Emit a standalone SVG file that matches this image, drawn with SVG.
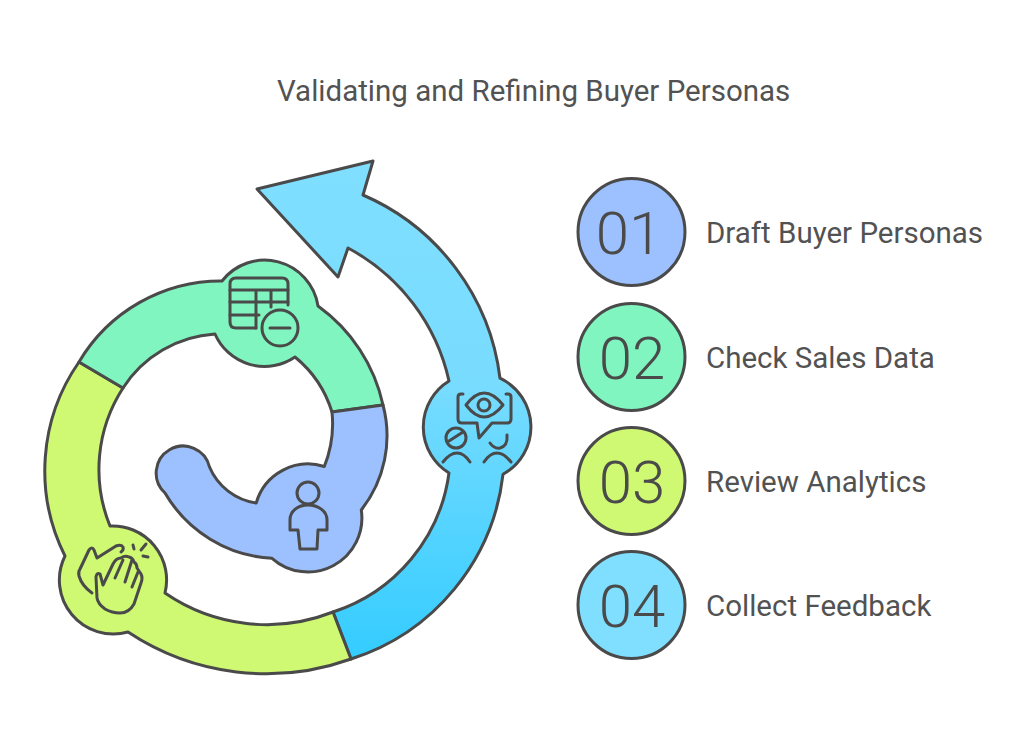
<svg xmlns="http://www.w3.org/2000/svg" width="1024" height="750" viewBox="0 0 1024 750">
<style>
.s{stroke:#4a4a4a;stroke-width:3;stroke-linejoin:round}
.i{fill:none;stroke:#4a4a4a;stroke-width:3;stroke-linecap:round;stroke-linejoin:round}
.t{font-family:Roboto,"Liberation Sans",sans-serif;fill:#525252;font-size:29.500px}
.n{font-family:Roboto,"Liberation Sans",sans-serif;fill:#4a4a4a;font-size:60px;font-weight:300;text-anchor:middle}
</style>
<defs>
<linearGradient id="b" gradientUnits="userSpaceOnUse" x1="0" y1="160" x2="0" y2="660">
<stop offset="0" stop-color="#80dfff"/><stop offset=".45" stop-color="#78dcff"/><stop offset="1" stop-color="#33ccff"/>
</linearGradient>
</defs>
<rect width="1024" height="750" fill="#fff"/>
<text id="title" class="t" x="277" y="100.500">Validating and Refining Buyer Personas</text>
<g id="spiral">
<g id="segment-04">
<path class="s" fill="url(#b)" d="M351,659 A220,220 0 0 0 503,474.300 A54,54 0 0 0 500,378.200 A230,230 0 0 0 363,195 L373,161 L257,189 L338,277 L348,248 A200,200 0 0 1 449,381 A54,54 0 0 0 449,473 A170,170 0 0 1 333,612 Z"/>
<g class="i">
<path d="M466,405 Q484,381 503,405 Q484,429 466,405 Z"/>
<circle cx="484" cy="405" r="6"/>
<path d="M463,394 H461 Q458,394 458,397 V419 Q458,423 462,423 H477 L479,438 L492,423 H507 Q511,423 511,419 V397 Q511,394 508,394 H506"/>
<circle cx="456" cy="438" r="10"/>
<path d="M449,441 L463,432"/>
<path d="M443,462 Q450,453 457,453 Q464,453 470,462"/>
<path d="M490,443 Q494,449 500,448 Q508,446 507,435"/>
<path d="M484,462 Q490,453 497,453 Q504,453 511,462"/>
</g>
</g>
<g id="segment-03">
<path class="s" fill="#cff873" d="M79,362 A190,190 0 0 0 65,556 A54,54 0 0 0 128,632 A250,250 0 0 0 351,659 L333,612 A180,180 0 0 1 165,593 A54,54 0 0 0 110,526 A150,150 0 0 1 123,388 Z"/>
<g class="i">
<path d="M92,593 Q82,586 79,576 Q78,572 80,569 L89,550 Q92,546 94,550 L97,558 L116,546 Q121,544 123,547 Q124,550 121,552"/>
<path d="M96,577 Q97,572 100,574 L103,585 L113,564 Q116,558 121,558 Q125,555 129,557 Q133,558 134,562 Q137,564 137,568 L141,574 Q143,578 141,583 L134,604 Q129,613 120,613 Q112,613 105,609 Q98,604 97,598 Z"/>
<path d="M115,578 L123,560 M125,582 L132,560 M132,587 L138,572"/>
<path d="M133,545 L134,549 M146,544 L141,550 M143,556 L148,557"/>
</g>
</g>
<g id="segment-02">
<path class="s" fill="#80f5bf" d="M79,362 A165,165 0 0 1 222,281 A54,54 0 0 1 318,306 A165,165 0 0 1 383,405 L332,412 A115,115 0 0 0 295,357 A54,54 0 0 1 215,334 A118,118 0 0 0 123,388 Z"/>
<g class="i">
<path d="M256,328 H236 Q230,328 230,322 V284 Q230,278 236,278 H282 Q288,278 288,284 V305"/>
<path d="M230,290 H288 M230,302 H288 M230,315 H259 M256,290 V328 M271,290 V307"/>
<circle cx="280" cy="328" r="18"/>
<path d="M270,328 H290"/>
</g>
</g>
<g id="segment-01">
<path class="s" fill="#9dc0ff" d="M383,405 A120,120 0 0 1 361.300,510 A54,54 0 0 1 272,558.300 A132,132 0 0 1 165,493 A27,27 0 1 1 209.500,467 A60,60 0 0 0 256.200,503 A54,54 0 0 1 324.300,466.500 A115,115 0 0 0 332,412 Z"/>
<g class="i">
<circle cx="308" cy="493" r="11"/>
<path d="M298,530 H290 V520 C290,511 298,505 308,505 C318,505 327,511 327,520 V530 H318 L317,549 H300 Z"/>
</g>
</g>
</g>
<g id="step-01"><circle class="s" fill="#9dc0ff" cx="631.500" cy="232" r="53.500"/><text class="n" x="629" y="254">01</text><text class="t" x="706" y="242.500">Draft Buyer Personas</text></g>
<g id="step-02"><circle class="s" fill="#80f5bf" cx="631.500" cy="357" r="53.500"/><text class="n" x="632" y="379">02</text><text class="t" x="706" y="367.500">Check Sales Data</text></g>
<g id="step-03"><circle class="s" fill="#cff873" cx="631.500" cy="481" r="53.500"/><text class="n" x="632" y="503">03</text><text class="t" x="706" y="491.500">Review Analytics</text></g>
<g id="step-04"><circle class="s" fill="#80dfff" cx="631.500" cy="605" r="53.500"/><text class="n" x="632" y="627">04</text><text class="t" x="706" y="615.500">Collect Feedback</text></g>
</svg>
